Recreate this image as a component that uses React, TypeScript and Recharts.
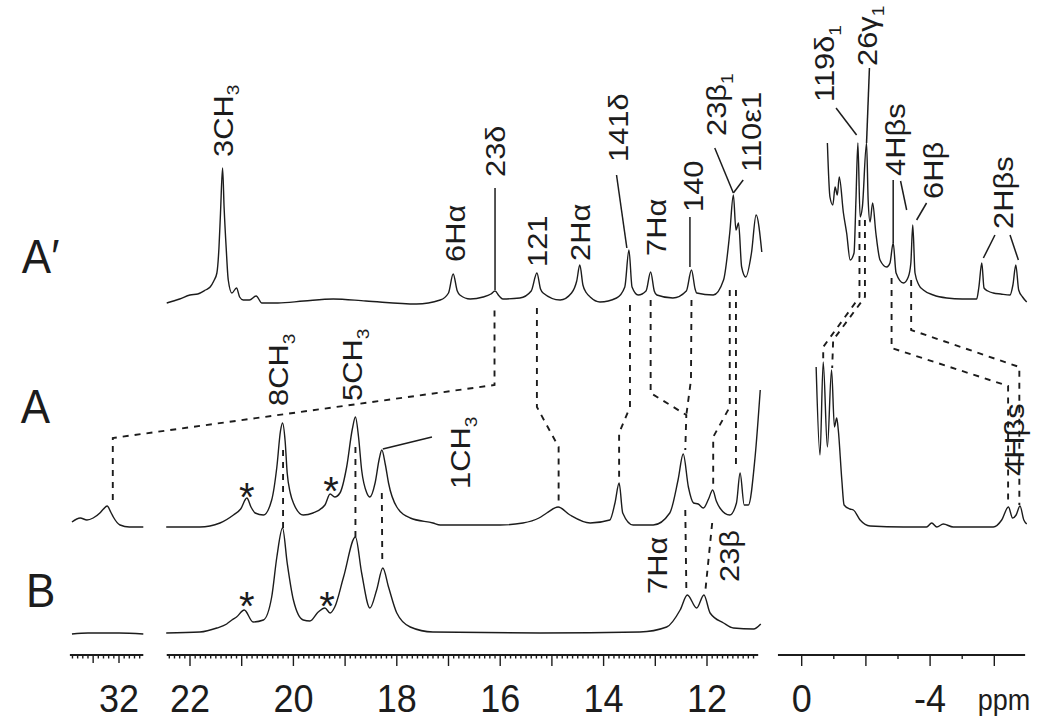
import { Line, LineChart, ReferenceDot, ReferenceLine, XAxis, YAxis } from "recharts";

type Pt = [number, number];

const FONT = '"Liberation Sans", Arial, Helvetica, sans-serif';
const INK = "#1c1c1c";
const STRETCH = 1.1;

// spectrum A' : [ppm, height above its own baseline]
const APRIME_MID: Pt[] = [
  [22.45, 0], [22.2, 4], [22.0, 8], [21.85, 9], [21.7, 13], [21.61, 16], [21.54, 22],
  [21.48, 30], [21.44, 55], [21.41, 90], [21.37, 135], [21.34, 95], [21.3, 55], [21.26, 23],
  [21.19, 10], [21.1, 15], [21.04, 6], [20.97, 3], [20.85, 3], [20.72, 7], [20.61, 0],
  [20.3, 0], [19.8, 2], [19.23, 4], [18.6, 2], [17.62, -1], [17.16, 3], [17.0, 10],
  [16.91, 29], [16.83, 12], [16.78, 8], [16.58, 4], [16.33, 6], [16.18, 9], [16.1, 12],
  [16.02, 7], [15.95, 4], [15.62, 5], [15.4, 12], [15.29, 30], [15.22, 14], [15.17, 10],
  [14.84, 3], [14.62, 10], [14.52, 22], [14.46, 38], [14.4, 18], [14.33, 10], [14.26, 6],
  [14.07, 1], [13.75, 5], [13.59, 16], [13.51, 53], [13.45, 16], [13.33, 8], [13.18, 12],
  [13.09, 31], [13.02, 12], [12.97, 8], [12.66, 5], [12.4, 12], [12.3, 33], [12.23, 14],
  [12.2, 10], [11.88, 8], [11.68, 23], [11.56, 70], [11.49, 108], [11.44, 73], [11.39, 80],
  [11.33, 36], [11.25, 26], [11.14, 50], [11.05, 88], [10.94, 51],
];
const APRIME_RIGHT: Pt[] = [
  [-0.8, 160], [-0.88, 106], [-0.97, 98], [-1.04, 116], [-1.11, 108], [-1.17, 126],
  [-1.3, 90], [-1.4, 70], [-1.51, 43], [-1.63, 50], [-1.69, 103], [-1.75, 160], [-1.82, 86],
  [-1.89, 96], [-2.02, 160], [-2.07, 103], [-2.13, 81], [-2.21, 100], [-2.31, 70],
  [-2.44, 43], [-2.65, 36], [-2.75, 40], [-2.85, 60], [-2.94, 30], [-3.17, 20], [-3.32, 26],
  [-3.4, 40], [-3.46, 78], [-3.53, 30], [-3.65, 18], [-3.79, 13], [-4.1, 8], [-4.52, 5],
  [-5.0, 4], [-5.45, 4], [-5.52, 16], [-5.61, 40], [-5.68, 15], [-5.8, 12], [-5.97, 10],
  [-6.2, 9], [-6.49, 8], [-6.58, 18], [-6.67, 38], [-6.76, 13], [-6.88, 6], [-7.01, 1],
];

// spectrum A
const A_LEFT: Pt[] = [
  [32.91, 5], [32.75, 9], [32.62, 7], [32.5, 9], [32.37, 14], [32.3, 18], [32.23, 21],
  [32.16, 15], [32.11, 10], [31.98, 2], [31.8, 0], [31.53, 0],
];
const A_MID: Pt[] = [
  [22.46, 0], [21.81, 0], [21.42, 4], [21.16, 12], [21.02, 18], [20.9, 29], [20.82, 20],
  [20.74, 14], [20.58, 12], [20.42, 27], [20.32, 60], [20.25, 96], [20.21, 104], [20.16, 86],
  [20.12, 54], [20.06, 34], [20.0, 24], [19.81, 12], [19.62, 14], [19.39, 22], [19.29, 33],
  [19.2, 30], [19.1, 34], [18.97, 60], [18.86, 98], [18.8, 110], [18.74, 90], [18.68, 57],
  [18.58, 34], [18.52, 30], [18.42, 44], [18.34, 68], [18.29, 77], [18.22, 62], [18.16, 44],
  [18.0, 20], [17.74, 9], [17.3, 4], [17.16, 2], [16.0, 2], [15.56, 4], [15.25, 9],
  [15.1, 14], [14.88, 20], [14.65, 12], [14.26, 4], [13.88, 7], [13.78, 24], [13.7, 44],
  [13.63, 14], [13.43, 2], [13.04, 2], [12.72, 14], [12.56, 47], [12.46, 73], [12.36, 40],
  [12.26, 24], [12.17, 23], [12.07, 19], [11.97, 28], [11.89, 37], [11.82, 26], [11.75, 19],
  [11.56, 12], [11.43, 24], [11.36, 54], [11.28, 22], [11.2, 22], [11.07, 70], [10.97, 137],
];
const A_RIGHT: Pt[] = [
  [-0.45, 160], [-0.57, 72], [-0.67, 165], [-0.8, 80], [-0.93, 157], [-1.02, 100],
  [-1.09, 109], [-1.14, 97], [-1.25, 47], [-1.32, 22], [-1.5, 18], [-1.61, 17], [-1.82, 7],
  [-2.13, 1], [-3.17, 0], [-3.89, 0], [-4.05, 4], [-4.21, 0], [-4.41, 3], [-4.72, 0],
  [-5.97, 0], [-6.23, 7], [-6.44, 20], [-6.57, 9], [-6.68, 12], [-6.8, 21], [-6.92, 7],
  [-7.01, 3],
];

// spectrum B
const B_LEFT: Pt[] = [[32.91, -1], [32.6, 0], [32.3, 0], [32.0, 0], [31.53, -1]];
const B_MID: Pt[] = [
  [22.46, 0], [21.81, 1], [21.48, 5], [21.29, 9], [21.19, 13], [21.1, 16], [20.95, 23],
  [20.78, 11], [20.58, 13], [20.42, 36], [20.32, 76], [20.21, 105], [20.12, 70], [20.0, 33],
  [19.81, 13], [19.68, 12], [19.52, 21], [19.39, 25], [19.29, 20], [19.2, 26], [19.03, 56],
  [18.8, 96], [18.68, 60], [18.52, 25], [18.39, 43], [18.27, 65], [18.16, 46], [18.0, 20],
  [17.74, 6], [17.3, 1], [15.23, 0], [13.3, 1], [12.78, 6], [12.52, 23], [12.38, 38],
  [12.2, 25], [12.06, 38], [11.94, 20], [11.68, 10], [11.49, 5], [11.1, 4], [10.96, 9],
];

// dashed correlation lines: [ppm, absolute height]
const DASH_23D: Pt[] = [[32.12, 133], [32.12, 195], [16.11, 248], [16.11, 328]];
const DASH_121: Pt[] = [[15.29, 325], [15.29, 226], [14.87, 186], [14.87, 128]];
const DASH_141D: Pt[] = [[13.49, 328], [13.49, 226], [13.7, 200], [13.7, 152]];
const DASH_7HA: Pt[] = [[13.09, 333], [13.09, 240], [12.4, 218], [12.42, 183]];
const DASH_140: Pt[] = [[12.3, 333], [12.31, 253], [12.4, 218]];
const DASH_23B1: Pt[] = [[11.56, 343], [11.56, 226], [11.88, 196], [11.88, 146]];
const DASH_110E1: Pt[] = [[11.44, 343], [11.44, 165]];
const DASH_8CH3: Pt[] = [[20.2, 183], [20.2, 103]];
const DASH_5CH3: Pt[] = [[18.8, 186], [18.8, 96]];
const DASH_1CH3: Pt[] = [[18.29, 140], [18.28, 68]];
const DASH_7HA_B: Pt[] = [[12.42, 123], [12.4, 45]];
const DASH_23B_B: Pt[] = [[11.9, 110], [12.03, 43]];
const DASH_119D1: Pt[] = [[-1.8, 413], [-1.8, 336], [-0.67, 286], [-0.67, 273]];
const DASH_26G1: Pt[] = [[-1.97, 413], [-1.97, 336], [-0.98, 293], [-0.95, 265]];
const DASH_4HBS: Pt[] = [[-2.8, 355], [-2.8, 285], [-6.43, 247], [-6.43, 128]];
const DASH_6HB: Pt[] = [[-3.41, 353], [-3.41, 303], [-6.78, 266], [-6.78, 128]];

// solid leader lines
const LEAD_23D: Pt[] = [[16.1, 343], [16.1, 445]];
const LEAD_141D: Pt[] = [[13.75, 458], [13.55, 385]];
const LEAD_140: Pt[] = [[12.33, 416], [12.33, 366]];
const LEAD_23B1: Pt[] = [[11.85, 485], [11.49, 440]];
const LEAD_110E1: Pt[] = [[11.3, 453], [11.49, 440]];
const LEAD_119D1: Pt[] = [[-1.07, 525], [-1.71, 498]];
const LEAD_26G1: Pt[] = [[-2.11, 565], [-2.02, 490]];
const LEAD_4HBS_1: Pt[] = [[-2.85, 453], [-2.85, 390]];
const LEAD_4HBS_2: Pt[] = [[-3.08, 452], [-3.27, 423]];
const LEAD_6HB: Pt[] = [[-3.89, 430], [-3.58, 413]];
const LEAD_2HBS_1: Pt[] = [[-6.02, 398], [-5.66, 375]];
const LEAD_2HBS_2: Pt[] = [[-6.49, 398], [-6.75, 373]];
const LEAD_1CH3: Pt[] = [[18.27, 184], [17.32, 196]];

// peak labels: text, subscript, ppm, height of label foot
const PEAK_LABELS: [string, string, number, number][] = [
  ["3CH", "3", 21.37, 475], ["6Hα", "", 16.87, 370], ["23δ", "", 16.1, 455],
  ["121", "", 15.29, 365], ["2Hα", "", 14.46, 371], ["141δ", "", 13.73, 470],
  ["7Hα", "", 12.98, 376], ["140", "", 12.28, 420], ["23β", "1", 11.83, 496],
  ["110ε1", "", 11.15, 460], ["119δ", "1", -0.69, 530], ["26γ", "1", -2.03, 566],
  ["4Hβs", "", -2.91, 456], ["6Hβ", "", -4.09, 433], ["2Hβs", "", -6.27, 403],
  ["8CH", "3", 20.3, 226], ["5CH", "3", 18.87, 231], ["1CH", "3", 16.78, 143],
  ["7Hα", "", 12.97, 38], ["23β", "", 11.57, 50], ["4Hβs", "", -6.62, 156],
];
const STARS: Pt[] = [[20.9, 146], [19.27, 152], [20.9, 37], [19.35, 37]];
const TRACE_NAMES: [string, number, number][] = [["A′", 33.88, 360], ["A", 33.9, 210], ["B", 33.8, 26]];

const TICKS_MAJOR = [32.5, 32, 22, 21, 20, 19, 18, 17, 16, 15, 14, 13, 12, 0, -2, -4, -6];
const TICKS_MINOR_RIGHT = [-1, -3, -5];
const TICK_LABELS = [32, 22, 20, 18, 16, 14, 12, 0, -4];

const BASE_APRIME = 330;
const BASE_A = 106;
const BASE_B = 0;
const AXIS_V = -22;

// broken ppm axis -> pixel-like coordinate
function toU(ppm: number) {
  if (ppm > 26) return 119 + (32 - ppm) * 51.7;
  if (ppm > 5) return 190 + (22 - ppm) * 51.7;
  return 801.7 - ppm * 32.1;
}
const series = (pts: Pt[], base = 0) => pts.map(([p, h]) => ({ u: toU(p), v: h + base }));

const minorTicks: number[] = [];
for (let i = 329; i >= 316; i--) if (i !== 325 && i !== 320) minorTicks.push(i / 10);
for (let i = 224; i >= 111; i--) if (i % 10 !== 0) minorTicks.push(i / 10);
const tickInfo = new Map<string, { len: number; label?: string }>();
TICKS_MAJOR.forEach((p) => tickInfo.set(toU(p).toFixed(2), { len: p > 26 ? 8 : 11 }));
TICKS_MINOR_RIGHT.forEach((p) => tickInfo.set(toU(p).toFixed(2), { len: 4 }));
minorTicks.forEach((p) => tickInfo.set(toU(p).toFixed(2), { len: 3.5 }));
TICK_LABELS.forEach((p) => {
  const k = toU(p).toFixed(2);
  tickInfo.set(k, { ...(tickInfo.get(k) || { len: 10 }), label: String(p) });
});
const ALL_TICKS = Array.from(tickInfo.keys()).map(Number);

const AXIS_SEGMENTS: Pt[] = [[32.95, 31.53], [22.45, 11.01], [0.74, -6.96]];

function AxisTick(props: any) {
  const { x, y, payload } = props;
  const info = tickInfo.get(Number(payload.value).toFixed(2));
  if (!info) return <g />;
  return (
    <g>
      <line x1={x} x2={x} y1={y} y2={y + info.len} stroke={INK} strokeWidth={1.4} />
      {info.label && (
        <text
          transform={`translate(${x},${y + 57}) scale(1,${STRETCH})`}
          textAnchor="middle"
          fontFamily={FONT}
          fontSize={36}
          fill={INK}
        >
          {info.label}
        </text>
      )}
    </g>
  );
}

function VLabel({ cx, cy, text, sub }: { cx: number; cy: number; text: string; sub: string }) {
  const fs = 28;
  return (
    <g transform={`translate(${cx},${cy}) scale(1,${STRETCH}) rotate(-90)`}>
      <text x={1} y={fs * 0.36} fontFamily={FONT} fontSize={fs} fill={INK}>
        {text}
        {sub && (
          <tspan fontSize={fs * 0.62} dy={fs * 0.24}>
            {sub}
          </tspan>
        )}
      </text>
    </g>
  );
}

const lineProps = {
  dataKey: "v",
  dot: false,
  activeDot: false,
  isAnimationActive: false,
  stroke: INK,
} as const;

export default function App() {
  const traces: [string, Pt[], number][] = [
    ["ap-mid", APRIME_MID, BASE_APRIME],
    ["ap-right", APRIME_RIGHT, BASE_APRIME],
    ["a-left", A_LEFT, BASE_A],
    ["a-mid", A_MID, BASE_A],
    ["a-right", A_RIGHT, BASE_A],
    ["b-left", B_LEFT, BASE_B],
    ["b-mid", B_MID, BASE_B],
  ];
  const dashes = [
    DASH_23D, DASH_121, DASH_141D, DASH_7HA, DASH_140, DASH_23B1, DASH_110E1, DASH_8CH3,
    DASH_5CH3, DASH_1CH3, DASH_7HA_B, DASH_23B_B, DASH_119D1, DASH_26G1, DASH_4HBS, DASH_6HB,
  ];
  const leads = [
    LEAD_23D, LEAD_141D, LEAD_140, LEAD_23B1, LEAD_110E1, LEAD_119D1, LEAD_26G1, LEAD_4HBS_1,
    LEAD_4HBS_2, LEAD_6HB, LEAD_2HBS_1, LEAD_2HBS_2, LEAD_1CH3,
  ];

  return (
    <div style={{ position: "absolute", left: 0, top: 0, width: 1050, height: 719, background: "#fff" }}>
      <LineChart width={1050} height={719} margin={{ top: 0, right: 0, bottom: 0, left: 0 }}>
        <XAxis
          type="number"
          dataKey="u"
          domain={[0, 1050]}
          allowDataOverflow
          ticks={ALL_TICKS}
          interval={0}
          tick={AxisTick}
          tickLine={false}
          axisLine={false}
          tickSize={0}
          tickMargin={0}
          height={64}
        />
        <YAxis type="number" domain={[AXIS_V, 633]} allowDataOverflow hide />

        {AXIS_SEGMENTS.map(([p1, p2], i) => (
          <ReferenceLine
            key={`ax-${i}`}
            segment={[{ x: toU(p1), y: AXIS_V }, { x: toU(p2), y: AXIS_V }]}
            stroke={INK}
            strokeWidth={2}
            ifOverflow="visible"
          />
        ))}

        {traces.map(([id, pts, base]) => (
          <Line key={id} {...lineProps} data={series(pts, base)} type="monotone" strokeWidth={1.4} />
        ))}
        {dashes.map((pts, i) => (
          <Line key={`d-${i}`} {...lineProps} data={series(pts)} type="linear" strokeWidth={1.9} strokeDasharray="6 6" />
        ))}
        {leads.map((pts, i) => (
          <Line key={`l-${i}`} {...lineProps} data={series(pts)} type="linear" strokeWidth={1.5} />
        ))}

        {PEAK_LABELS.map(([text, sub, p, v], i) => (
          <ReferenceDot
            key={`pl-${i}`}
            x={toU(p)}
            y={v}
            r={0}
            ifOverflow="visible"
            shape={(s: any) => <VLabel cx={s.cx} cy={s.cy} text={text} sub={sub} />}
          />
        ))}
        {STARS.map(([p, v], i) => (
          <ReferenceDot
            key={`st-${i}`}
            x={toU(p)}
            y={v}
            r={0}
            ifOverflow="visible"
            shape={(s: any) => (
              <text x={s.cx} y={s.cy + 24} textAnchor="middle" fontFamily={FONT} fontSize={40} fill={INK}>
                *
              </text>
            )}
          />
        ))}
        {TRACE_NAMES.map(([name, p, v]) => (
          <ReferenceDot
            key={name}
            x={toU(p)}
            y={v}
            r={0}
            ifOverflow="visible"
            shape={(s: any) => (
              <text
                transform={`translate(${s.cx},${s.cy}) scale(1,${STRETCH})`}
                fontFamily={FONT}
                fontSize={44}
                fill={INK}
              >
                {name}
              </text>
            )}
          />
        ))}
        <ReferenceDot
          x={toU(-6.3)}
          y={AXIS_V}
          r={0}
          ifOverflow="visible"
          shape={(s: any) => (
            <text
              transform={`translate(${s.cx},${s.cy + 55}) scale(1,${STRETCH})`}
              textAnchor="middle"
              fontFamily={FONT}
              fontSize={27}
              fill={INK}
            >
              ppm
            </text>
          )}
        />
      </LineChart>
    </div>
  );
}
